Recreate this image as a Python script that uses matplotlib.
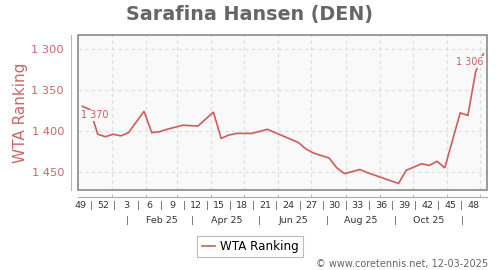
import matplotlib
matplotlib.use('Agg')
import matplotlib.pyplot as plt
import matplotlib.dates as mdates
import matplotlib.transforms as mtransforms
from matplotlib.patches import Rectangle
from matplotlib.lines import Line2D
import datetime as dt

plt.rcParams['font.family'] = ['DejaVu Sans']

# ---- data ----
dates = ["2024-12-05", "2024-12-12", "2024-12-19", "2024-12-26", "2025-01-02",
         "2025-01-09", "2025-01-16", "2025-01-30", "2025-02-06", "2025-02-13",
         "2025-02-20", "2025-03-06", "2025-03-20", "2025-04-03", "2025-04-10",
         "2025-04-17", "2025-04-24", "2025-05-08", "2025-05-22", "2025-06-05",
         "2025-06-12", "2025-06-19", "2025-06-26", "2025-07-03", "2025-07-17",
         "2025-07-24", "2025-07-31", "2025-08-14", "2025-08-21", "2025-09-18",
         "2025-09-25", "2025-10-09", "2025-10-16", "2025-10-23", "2025-10-30",
         "2025-11-13", "2025-11-20", "2025-11-27", "2025-12-04"]
ranks = [1370, 1374, 1404, 1407, 1404, 1406, 1402, 1376, 1402, 1401,
         1398, 1393, 1394, 1377, 1409, 1405, 1403, 1403, 1398, 1406,
         1410, 1414, 1422, 1427, 1433, 1445, 1452, 1447, 1451, 1464,
         1448, 1440, 1442, 1437, 1445, 1378, 1381, 1328, 1306]
week_years = [2024, 2024, 2025, 2025, 2025, 2025, 2025, 2025, 2025, 2025,
              2025, 2025, 2025, 2025, 2025, 2025, 2025, 2025]
week_nums = [49, 52, 3, 6, 9, 12, 15, 18, 21, 24, 27, 30, 33, 36, 39, 42, 45, 48]
month_labels = ["Feb 25", "Apr 25", "Jun 25", "Aug 25", "Oct 25"]
month_label_dates = ["2025-02-15", "2025-04-15", "2025-06-15", "2025-08-15", "2025-10-15"]
month_sep_dates = ["2025-01-15", "2025-03-15", "2025-05-15", "2025-07-15", "2025-09-15", "2025-11-15"]
grid_months = ["2025-%02d-01" % m for m in range(1, 13)]
yticks = [1300, 1350, 1400, 1450]

LINE = '#cd5c5c'
RED_TXT = '#cc6666'

def d2n(s):
    return mdates.date2num(dt.datetime.strptime(s, "%Y-%m-%d"))

x = [d2n(s) for s in dates]

fig = plt.figure(figsize=(5, 2.7), dpi=100)
ax = fig.add_axes([78/500, 80/270, 409/500, 155/270])
ax.set_facecolor('#f9f9f9')

ax.plot(x, ranks, color=LINE, lw=1.2, zorder=3, solid_joinstyle='miter')

x0 = mdates.date2num(dt.datetime(2024, 12, 1, 2, 0))
x1 = mdates.date2num(dt.datetime(2025, 12, 7, 8, 0))
ax.set_xlim(x0, x1)
ax.set_ylim(1472, 1283)

ax.set_yticks(yticks)
ax.set_yticklabels([f"{v:,}".replace(',', ' ') for v in yticks])
ax.tick_params(axis='y', length=0, pad=5, labelsize=8.2, labelcolor=RED_TXT)

gx = [d2n(s) for s in grid_months]
ax.set_xticks(gx)
ax.set_xticklabels([])
ax.tick_params(axis='x', direction='in', length=2, color='#bbbbbb', width=0.8)

ax.grid(True, color='#dcdcdc', lw=0.8, linestyle=(0, (3, 3)))
ax.set_axisbelow(True)

for s in ['top', 'right']:
    ax.spines[s].set_visible(False)
ax.spines['left'].set_position(('outward', 5))
ax.spines['left'].set_color('#dfa8a8')
ax.spines['bottom'].set_position(('outward', 5))
ax.spines['bottom'].set_color('#aaaaaa')

ax.add_patch(Rectangle((0, 0), 1, 1, transform=ax.transAxes, fill=False,
                       ec='#808080', lw=1.1, clip_on=False, zorder=5))

trans = mtransforms.blended_transform_factory(ax.transData, ax.transAxes)
wk_pos = []
for yr, w in zip(week_years, week_nums):
    d = dt.datetime.combine(dt.date.fromisocalendar(yr, w, 2), dt.time())
    wk_pos.append(mdates.date2num(d))
for p, w in zip(wk_pos, week_nums):
    ax.text(p, -0.097, str(w), transform=trans, ha='center', va='center',
            fontsize=6.8, color='#333333', clip_on=False)
for a, b in zip(wk_pos[:-1], wk_pos[1:]):
    ax.text((a + b) / 2, -0.097, '|', transform=trans, ha='center', va='center',
            fontsize=6.8, color='#555555', clip_on=False)
for s, lab in zip(month_label_dates, month_labels):
    ax.text(d2n(s), -0.194, lab, transform=trans, ha='center', va='center',
            fontsize=6.8, color='#333333', clip_on=False)
for s in month_sep_dates:
    ax.text(d2n(s), -0.194, '|', transform=trans, ha='center', va='center',
            fontsize=6.8, color='#555555', clip_on=False)

# value labels
bb = dict(fc='#f9f9f9', ec='none', pad=0.6)
ax.annotate(f"{ranks[0]:,}".replace(',', ' '), xy=(x[0], ranks[0]),
            xytext=(9.1, -6.5), textcoords='offset points', ha='center', va='center',
            fontsize=6.9, color=LINE, bbox=bb, zorder=4)
ax.annotate(f"{ranks[-1]:,}".replace(',', ' '), xy=(x[-1], ranks[-1]),
            xytext=(0, -6.0), textcoords='offset points', ha='right', va='center',
            fontsize=6.9, color=LINE, bbox=bb, zorder=4)

fig.text(0.5, 1 - 14.5/270, "Sarafina Hansen (DEN)", ha='center', va='center',
         fontsize=13.8, fontweight='bold', color='#666666')
fig.text(21/500, 1 - 112.5/270, "WTA Ranking", rotation=90, ha='center', va='center',
         fontsize=11, color=RED_TXT)

handle = Line2D([], [], color=LINE, lw=1.2)
leg = fig.legend([handle], ["WTA Ranking"], loc='center',
                 bbox_to_anchor=(0.5, 1 - 246.5/270), fontsize=8.6,
                 handlelength=1.1, handletextpad=0.4, borderpad=0.35,
                 borderaxespad=0, fancybox=False, edgecolor='#aaaaaa')
leg.get_frame().set_linewidth(0.8)

fig.text(488/500, 1 - 264/270, "© www.coretennis.net, 12-03-2025", ha='right',
         va='center', fontsize=7.0, color='#666666')

fig.savefig('out.png', dpi=100)
